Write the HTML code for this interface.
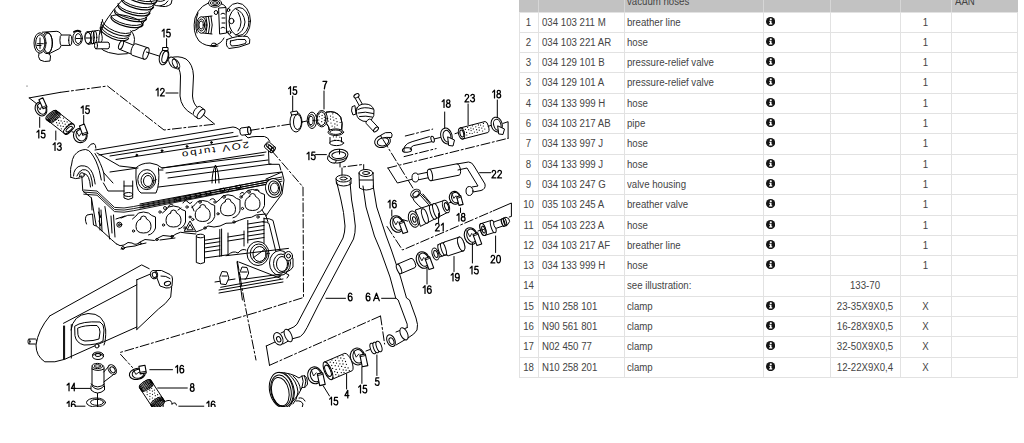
<!DOCTYPE html>
<html><head><meta charset="utf-8"><style>
html,body{margin:0;padding:0;background:#fff;width:1024px;height:443px;overflow:hidden;position:relative}
body{font-family:"Liberation Sans",sans-serif;color:#444;font-size:9.5px}
.hd{position:absolute;background:#c2c2c2}
.hv{position:absolute;width:1px;background:#d6d6d6}
.ht{position:absolute;top:-3.8px;line-height:12px;font-size:10px;color:#444;white-space:nowrap;transform:scaleX(0.965);transform-origin:0 0}
.v{position:absolute;width:1px;background:#e2e2e2}
.h{position:absolute;height:1px;background:#e2e2e2}
.r{position:absolute;left:0;width:1024px;height:20.29px}
.c{position:absolute;top:0;line-height:21.29px;white-space:nowrap;font-size:10px;transform:scaleX(0.965);transform-origin:0 0}
.cc{transform-origin:50% 0}
.ic{position:absolute;top:5.0px}
#dr{position:absolute;left:0;top:0}
</style></head><body>
<svg id="dr" width="515" height="443" viewBox="0 0 515 443" fill="none" stroke="#000" stroke-width="1" stroke-linecap="round" stroke-linejoin="round" font-family="Liberation Sans, sans-serif"><defs><clipPath id="cp"><rect x="0" y="0" width="515" height="407"/></clipPath></defs><g clip-path="url(#cp)">
<path d="M42.4 32.2 L56.9 31.3 Q61.4 32 62.3 38 Q62.8 45 59.6 48.5 L48.8 53.9" fill="#fff"/>
<path d="M70.3 35.0 L61.5 35.0 A1.6 5.2 180.0 0 0 61.5 45.4 L70.3 45.4" fill="#fff"/>
<ellipse cx="70.3" cy="40.2" rx="1.6" ry="5.2" transform="rotate(180.0 70.3 40.2)" fill="#fff"/>
<path d="M39 53 Q37.5 57 40 60 Q44 62.5 50 61 L50.5 56 L48.8 53"/>
<ellipse cx="47" cy="43" rx="5.4" ry="10.7" fill="#fff"/>
<ellipse cx="48" cy="43" rx="4.4" ry="10"/>
<ellipse cx="40" cy="43" rx="6" ry="10.2" fill="#fff"/>
<ellipse cx="40.3" cy="43" rx="4.6" ry="8.3"/>
<path d="M37.5 43.7 L43.3 43.7"/>
<path d="M40.0 38.0 L40.0 48.5"/>
<path d="M37.0 45.5 L41.0 45.5"/>
<ellipse cx="77.6" cy="38.3" rx="4.8" ry="7" fill="#fff"/>
<ellipse cx="78.2" cy="38.6" rx="3" ry="5"/>
<path d="M73.8 32 Q77 29.5 80.5 31.5" stroke-width="1.6"/>
<path d="M76.0 38.5 L80.0 38.5"/>
<path d="M88.8 44.1 L100.3 42.6 A3.0 6.2 -7.4 0 0 98.7 30.4 L87.2 31.9" fill="#fff"/>
<ellipse cx="88" cy="38" rx="3" ry="6.2" transform="rotate(-7.4 88 38)" fill="#fff"/>
<ellipse cx="88" cy="38" rx="3" ry="5.6" fill="#fff"/>
<path d="M86.0 38.0 L90.0 38.0"/>
<ellipse cx="92.5" cy="37.5" rx="1.8" ry="6.3"/>
<ellipse cx="95" cy="37.3" rx="1.8" ry="6.3"/>
<path d="M101.4 26.9 Q98 35 99 45.8 Q102 51 108.5 52.5 Q118 55.5 127.4 53.7 Q134 50 134.5 39.5 Q134 33 130.6 30.8"/>
<path d="M96.0 48.8 L108.0 48.8 A1.5 3.3 0.0 0 0 108.0 42.2 L96.0 42.2" fill="#fff"/>
<ellipse cx="96" cy="45.5" rx="1.5" ry="3.3" fill="#fff"/>
<path d="M125.0 -7.0 A16.5 6 14 0 0 157.0 1.0" stroke-width="1.2"/>
<path d="M124.9 -8.5 A16.3 5.5 14 0 0 156.5 -0.7" stroke-width="1.0"/>
<path d="M121.6 -1.0 A16.5 6 14 0 0 153.6 7.0" stroke-width="1.2"/>
<path d="M121.5 -2.5 A16.3 5.5 14 0 0 153.1 5.3" stroke-width="1.0"/>
<path d="M118.0 5.0 A16.5 6 14 0 0 150.0 13.0" stroke-width="1.2"/>
<path d="M117.9 3.5 A16.3 5.5 14 0 0 149.5 11.3" stroke-width="1.0"/>
<path d="M114.6 10.8 A16.5 6 14 0 0 146.6 18.8" stroke-width="1.2"/>
<path d="M114.5 9.3 A16.3 5.5 14 0 0 146.1 17.1" stroke-width="1.0"/>
<path d="M111.0 16.8 A16.5 6 14 0 0 143.0 24.8" stroke-width="1.2"/>
<path d="M110.9 15.3 A16.3 5.5 14 0 0 142.5 23.1" stroke-width="1.0"/>
<path d="M111.0 16.8 A16.5 5 14 0 1 143.0 24.8"/>
<path d="M107.4 18.6 L104 24 Q101 29 101.2 33"/>
<path d="M143 24 L138 28.5 Q135 31 132.2 31"/>
<path d="M102.2 19.5 A16 6.5 22 0 0 131.8 31.5"/>
<path d="M101.4 22.1 A15.8 6.5 22 0 0 130.6 33.9" stroke-width="1.1"/>
<path d="M100.8 24.5 A15.5 6.5 22 0 0 129.6 36.1"/>
<path d="M100.4 26.9 A15.2 6.3 22 0 0 128.6 38.3" stroke-width="1.1"/>
<path d="M122.3 0 L113.6 10 L107.4 18.6"/>
<path d="M157 0 L153.3 6.2 L142.1 24.8"/>
<path d="M150 0 Q152 6 160 6 Q166 5 168 1 M156 0 Q160 3 165 0 M160 6 Q166 8 171 4 L172 0"/>
<path d="M119.3 49.2 L135.3 55.7 A2.0 4.5 22.1 0 0 138.7 47.3 L122.7 40.8" fill="#fff"/>
<ellipse cx="121" cy="45" rx="2" ry="4.5" transform="rotate(22.1 121 45)" fill="#fff"/>
<path d="M147.9 47.8 L135.9 43.8 A2.5 6.0 -161.6 0 0 132.1 55.2 L144.1 59.2" fill="#fff"/>
<ellipse cx="146" cy="53.5" rx="2.5" ry="6" transform="rotate(-161.6 146 53.5)" fill="#fff"/>
<path d="M146.4 52.0 L159.0 56.0"/>
<ellipse cx="164" cy="57" rx="4.5" ry="8" transform="rotate(15 164 57)" fill="#fff"/>
<ellipse cx="165" cy="57" rx="2.8" ry="6" transform="rotate(15 165 57)"/>
<path d="M163 47.5 l5 0 l0 3 l-5 0z" fill="#fff"/>
<path d="M166.6 38.7 L166.6 47.5"/>
<path d="M 162.12 31.08 L 164.02 29.27 L 164.02 36.88 M 170.00 29.27 L 167.15 29.27 L 166.77 32.70 C 167.25 32.22 167.72 32.03 168.39 32.03 C 169.62 32.03 170.29 32.98 170.29 34.41 C 170.29 35.92 169.43 36.88 168.29 36.88 C 167.25 36.88 166.58 36.21 166.39 35.35" stroke-width="1.25"/>
<path d="M170 58 Q178 55 186 59 Q193 64 193.5 76 L192.5 96 Q193 104 198 108"/>
<path d="M176 65 Q180 68 180.5 76 L180 96 Q181 108 192 114"/>
<ellipse cx="173" cy="62.5" rx="3.5" ry="6" transform="rotate(-30 173 62.5)" fill="#fff"/>
<ellipse cx="176" cy="64" rx="3" ry="5.5" transform="rotate(-30 176 64)"/>
<path d="M204.3 109.6 L200.3 106.6 A2.5 5.5 -143.1 0 0 193.7 115.4 L197.7 118.4" fill="#fff"/>
<ellipse cx="201" cy="114" rx="2.5" ry="5.5" transform="rotate(-143.1 201 114)" fill="#fff"/>
<path d="M166.0 93.0 L178.0 93.0"/>
<path d="M 156.12 90.08 L 158.02 88.28 L 158.02 95.88 M 160.58 90.08 C 160.77 88.75 161.44 88.28 162.39 88.28 C 163.43 88.28 164.19 88.94 164.19 90.18 C 164.19 91.22 163.53 91.89 162.58 92.84 L 160.39 95.88 L 164.29 95.88" stroke-width="1.25"/>
<path d="M215 1.5 Q200 3 195 18 Q192 32 199 41 Q206 47 214 45.5 Q221 44 224 38"/>
<path d="M198 13 Q194 24 197 33 M219 3 Q224 4 226 7"/>
<ellipse cx="237.5" cy="21" rx="13" ry="18" fill="#fff"/>
<ellipse cx="239" cy="21.5" rx="10" ry="14"/>
<path d="M236 9 Q244 12 245 22 Q244 32 236 35 M238 12 Q241 18 241 22 Q241 27 238 31"/>
<ellipse cx="201.5" cy="25" rx="4.8" ry="8.3" fill="#fff"/>
<ellipse cx="201.3" cy="25" rx="3.4" ry="6"/>
<ellipse cx="201.1" cy="25" rx="2.2" ry="4"/>
<path d="M203 17 L212 16 M203 33 L212 34"/>
<path d="M206 17 Q208.5 25 206 33 M208.5 16.6 Q211 25 208.5 33.4 M211 16.3 Q213.5 25 211 33.7"/>
<ellipse cx="215" cy="3" rx="6.5" ry="4.2" fill="#fff"/>
<ellipse cx="215" cy="3" rx="4.5" ry="2.6"/>
<ellipse cx="215" cy="3" rx="2.5" ry="1.3"/>
<path d="M219 8 L226 7.5 L226.5 33 L220 34Z" fill="#fff"/>
<path d="M221 14 Q223 12 225 14 M221 28 Q223 26 225 28 M222 18 L225 18 M222 23 L225 23"/>
<ellipse cx="231.5" cy="21" rx="2.4" ry="2.7" fill="#fff"/>
<ellipse cx="228.5" cy="10" rx="1.3" ry="1.5"/>
<ellipse cx="229.5" cy="32.5" rx="1.4" ry="1.5"/>
<ellipse cx="216" cy="12.5" rx="1.8" ry="2" fill="#fff"/>
<path d="M227 39.5 Q238 35 247.5 36.5 Q251 39 249.5 43.5 Q239 48 229 48.5 Q225 46 227 39.5Z" fill="#fff"/>
<path d="M230.5 41 Q238 38.5 245 39.5 Q247 41.5 245.5 43.5 Q238 46 231.5 46 Q229.5 44 230.5 41Z"/>
<ellipse cx="214" cy="44.5" rx="2.5" ry="1.4"/>
<path d="M210 46 Q214 47.5 218 46"/>
<path d="M29.2 97.9 L60.0 92.4"/>
<path d="M60.0 92.4 L107.5 86.0 L164.0 130.0 L214.7 124.2" stroke-dasharray="9 2.5 2 2.5"/>
<path d="M29.2 97.9 L37.0 104.0"/>
<path d="M203.5 115.0 L214.7 124.2"/>
<circle cx="27" cy="86" r="0.5" fill="#000" stroke="none"/>
<ellipse cx="41" cy="109" rx="5.6" ry="7.2" transform="rotate(-25 41 109)" fill="#fff" stroke-width="1.1"/>
<ellipse cx="41.7" cy="108.7" rx="4.14" ry="5.76" transform="rotate(-25 41.7 108.7)"/>
<path d="M36.9 104.9 L40.1 109.8 L41.5 106.8" stroke-width="0.9"/>
<path d="M43.1 108.8 L47.0 107.0 L42.8 97.8 L38.9 99.7Z" fill="#fff" stroke-linejoin="round" stroke-width="1.1"/>
<path d="M42.5 107.4 Q44.6 106.2 46.1 105.7" stroke-width="0.9"/>
<path d="M73.0 123.8 L56.2 110.6 A2.8 6.5 -141.8 0 0 48.2 120.8 L65.0 134.0" fill="#fff"/>
<ellipse cx="69" cy="128.9" rx="2.8" ry="6.5" transform="rotate(-141.8 69 128.9)" fill="#fff"/>
<path d="M58.8 114.9h0.01 M57.0 117.4h0.01 M55.6 119.5h0.01 M52.9 122.1h0.01 M60.1 117.6h0.01 M58.6 120.4h0.01 M56.6 122.7h0.01 M63.4 118.1h0.01 M61.1 120.9h0.01 M59.3 123.2h0.01 M57.8 125.2h0.01 M64.3 121.3h0.01 M62.5 123.0h0.01 M60.7 125.9h0.01 M67.1 121.9h0.01 M65.2 124.2h0.01 M63.2 126.4h0.01 M61.3 128.8h0.01 M68.7 124.3h0.01 M66.3 126.3h0.01 M64.9 129.2h0.01" stroke-width="1.20"/>
<ellipse cx="51.5" cy="115.2" rx="2.6" ry="6.8" transform="rotate(52 51.5 115.2)" fill="#fff"/>
<ellipse cx="52.5" cy="116.0" rx="2.6" ry="6.8" transform="rotate(52 52.5 116.0)"/>
<ellipse cx="53.6" cy="116.8" rx="2.6" ry="6.8" transform="rotate(52 53.6 116.8)"/>
<ellipse cx="54.6" cy="117.6" rx="2.6" ry="6.8" transform="rotate(52 54.6 117.6)"/>
<ellipse cx="69" cy="128.9" rx="2.8" ry="6.5" transform="rotate(52 69 128.9)" fill="#fff"/>
<ellipse cx="69.2" cy="129.1" rx="1.6" ry="3.8" transform="rotate(52 69.2 129.1)"/>
<path d="M72.0 131.8 L75.0 132.5"/>
<ellipse cx="80.3" cy="135.5" rx="6.8" ry="7.2" transform="rotate(-20 80.3 135.5)" fill="#fff" stroke-width="1.1"/>
<ellipse cx="81.1" cy="135.2" rx="5.03" ry="5.76" transform="rotate(-20 81.1 135.2)"/>
<path d="M76.2 131.2 L79.1 136.3 L81.3 133.2" stroke-width="0.9"/>
<path d="M82.8 135.3 L87.8 133.5 L84.3 124.1 L79.4 125.9Z" fill="#fff" stroke-linejoin="round" stroke-width="1.1"/>
<path d="M82.3 133.8 Q84.9 132.7 87.0 132.2" stroke-width="0.9"/>
<path d="M39.7 117.2 L39.7 127.4"/>
<path d="M 36.91 132.08 L 38.81 130.28 L 38.81 137.88 M 44.80 130.28 L 41.95 130.28 L 41.57 133.69 C 42.04 133.22 42.52 133.03 43.18 133.03 C 44.42 133.03 45.08 133.98 45.08 135.41 C 45.08 136.93 44.23 137.88 43.09 137.88 C 42.04 137.88 41.38 137.21 41.19 136.36" stroke-width="1.25"/>
<path d="M55.8 131.0 L55.8 140.0"/>
<path d="M 53.11 144.58 L 55.02 142.78 L 55.02 150.38 M 57.58 144.20 C 57.96 143.16 58.53 142.78 59.38 142.78 C 60.52 142.78 61.09 143.53 61.09 144.58 C 61.09 145.62 60.34 146.29 59.10 146.29 C 60.62 146.29 61.28 147.15 61.28 148.28 C 61.28 149.62 60.43 150.38 59.29 150.38 C 58.24 150.38 57.58 149.71 57.39 148.86" stroke-width="1.25"/>
<path d="M83.7 115.5 L83.7 124.5"/>
<path d="M 81.21 107.78 L 83.11 105.98 L 83.11 113.58 M 89.10 105.98 L 86.25 105.98 L 85.87 109.40 C 86.34 108.92 86.82 108.73 87.48 108.73 C 88.72 108.73 89.38 109.68 89.38 111.11 C 89.38 112.63 88.53 113.58 87.39 113.58 C 86.34 113.58 85.68 112.91 85.49 112.06" stroke-width="1.25"/>
<path d="M70.8 177.3 Q70 168 71.5 165 Q72 159 74.2 155.6 Q77 152 79.6 150.9 Q83 149.5 85.7 149.5 Q89 150 91.1 152.9 Q94 157 95.9 161 Q98 166 99.3 170.5 L101.3 180"/>
<path d="M95 153.5 Q98.2 158.5 100.3 163.5 Q102.3 168 103.8 173 L104.4 181"/>
<path d="M73.5 176 Q73.5 172 75.5 169.2 Q78 166 81 165.8 Q85 165.5 87.7 167.1 Q91 169.5 92.5 173.2 Q94.5 178 95.2 184"/>
<path d="M76.9 176 Q78.5 171.5 82.3 169.8 Q86 169 88.5 171.5 Q91 175 92 181 L92.5 186"/>
<path d="M79 177 Q81 173.5 84 173.5 Q87 174 88.5 177.5 Q90 181 90.5 187"/>
<ellipse cx="82" cy="175" rx="2.3" ry="2.3" fill="#fff"/>
<path d="M70.8 177.3 L75.5 178.6 L80 178"/>
<path d="M88 147.5 Q91 142.7 94 143.5 Q96 145 95.9 148.2"/>
<path d="M95 150 L233 127 Q236 127 239 129.5 L248 137.9 Q252 136.5 256 136.5 L264.4 136.5 Q268 137 269.8 141.3 M268.5 150 L269 164.3 L279.3 164.3 L280.8 170"/>
<path d="M266.5 144.0 L268.5 150.0"/>
<path d="M98.9 155.0 L233.0 132.5"/>
<path d="M97 153 L119.6 166 L135.9 167.9 Q141 163 150 163 Q158 164 162 168 L266 152"/>
<path d="M110.0 156.0 L238.0 136.0"/>
<path d="M116.0 159.5 L242.0 140.0"/>
<path d="M162.0 168.0 L264.0 155.0"/>
<path d="M166.0 173.0 L268.0 160.0"/>
<path d="M168.0 178.0 L271.0 164.0"/>
<path d="M110.0 172.0 L138.0 168.0"/>
<path d="M159.0 170.0 L163.0 170.0"/>
<circle cx="136.8" cy="155.2" r="0.9" fill="#000"/><circle cx="162" cy="150.7" r="0.9" fill="#000"/><circle cx="187" cy="146.5" r="0.9" fill="#000"/><circle cx="211.5" cy="142.5" r="0.9" fill="#000"/>
<text transform="translate(248.5 141.5) rotate(171.2) scale(1.3 1)" font-size="9" letter-spacing="1.4" stroke="none" fill="#000">2OV turbo</text>
<ellipse cx="146.8" cy="179.6" rx="9" ry="10" fill="#fff"/>
<ellipse cx="147.5" cy="180.5" rx="6.5" ry="7.5"/>
<ellipse cx="148" cy="181" rx="4.5" ry="5.5"/>
<path d="M136 169 Q135 190 141 193 L156 193 Q160 185 158.5 168"/>
<path d="M103.4 172.4 L113.0 183.0"/>
<path d="M103.4 183.0 L108.0 191.0 L124.0 191.0"/>
<path d="M158.5 187.0 L282.0 172.0"/>
<path d="M212 183 Q212 172 215.5 165 Q219 172 219 183"/>
<path d="M215.5 168.0 L215.5 183.0"/>
<path d="M83.8 190.0 L97 191.0 L114.5 207.4 Q124 209.0 133.7 206.5 L282 177.0" stroke-width="0.9"/>
<path d="M83.8 192.1 L97 193.1 L114.5 209.5 Q124 211.1 133.7 208.6 L282 179.1" stroke-width="0.9"/>
<path d="M83.8 194.2 L97 195.2 L114.5 211.6 Q124 213.2 133.7 210.7 L282 181.2" stroke-width="0.9"/>
<path d="M124 181 L124 198 Q128 201 132.7 198 L132.7 181"/>
<ellipse cx="128.3" cy="194.5" rx="4.3" ry="2"/>
<path d="M124.0 186.0 L132.7 186.0"/>
<path d="M140.0 204.0 L268.0 180.0"/>
<path d="M140.0 206.0 L268.0 182.0"/>
<path d="M140.0 208.0 L268.0 184.0"/>
<path d="M176 198 l4 -1 l1 3 l-4 1z M186 196 l4 -1 l1 3 l-4 1z M196 194 l4 -1 l1 3 l-4 1z M206 192 l4 -1 l1 3 l-4 1z M220 189 l4 -1 l1 3 l-4 1z M236 186 l4 -1 l1 3 l-4 1z"/>
<path d="M168 207 q2 -4 5 -2 M183 203 q2 -4 5 -1 q2 3 4 0 M192 206 l2 5 M210 200 q3 -3 5 0 M240 194 q2 -3 4 -1 M255 190 q3 -2 4 1 M228 192 l2 -4 M178 210 l3 -2"/>
<g stroke-width="0.9"><circle cx="165" cy="208" r="1.5"/><circle cx="200" cy="202" r="1.3"/><circle cx="224" cy="197" r="1.3"/><circle cx="249" cy="192" r="1.3"/><circle cx="160" cy="212" r="1.2"/><circle cx="187" cy="207" r="1.2"/><circle cx="215" cy="202" r="1.2"/><circle cx="241" cy="197" r="1.2"/></g>
<path d="M81.8 175.8 L82.8 191 L91.4 197.8 L92 210"/>
<path d="M86.5 224 Q84 218 87 215 L92.5 214 L93.5 225 L96.2 226"/>
<path d="M91.4 197.8 L96.2 225.7 L111.5 239.6 L116.4 243.9"/>
<path d="M104.9 206.5 L109.7 239.0"/>
<path d="M99.0 208.0 L100.0 230.0"/>
<path d="M101.0 210.0 L102.0 231.0"/>
<path d="M98.5 212 l1.5 6 l1 -3 M99 221 l1.5 5 l1 -3"/>
<circle cx="119.3" cy="224.7" r="2.5"/><circle cx="119.3" cy="224.7" r="1"/>
<path d="M111 216 L112 233 M113.5 215 L115 237 M116 219 L125 216"/>
<path d="M121 218 Q128 214 134 215"/>
<path d="M140.5 219.0 Q140.5 216.0 143.5 216.0 Q146.5 216.0 146.5 219.0 Q151.0 221.0 151.0 226.5 Q151.0 233.0 143.5 233.0 Q136.0 233.0 136.0 226.5 Q136.0 221.0 140.5 219.0Z"/>
<path d="M132.5 219.0 Q136.5 216.0 138.5 213.0 Q143.5 211.0 148.5 213.0 Q151.5 216.0 155.5 217.0 L155.5 228.0 Q153.5 234.0 148.5 235.0"/>
<circle cx="133.5" cy="231.0" r="1.1"/>
<path d="M170.5 213.0 Q170.5 210.0 173.5 210.0 Q176.5 210.0 176.5 213.0 Q181.0 215.0 181.0 220.5 Q181.0 227.0 173.5 227.0 Q166.0 227.0 166.0 220.5 Q166.0 215.0 170.5 213.0Z"/>
<path d="M162.5 213.0 Q166.5 210.0 168.5 207.0 Q173.5 205.0 178.5 207.0 Q181.5 210.0 185.5 211.0 L185.5 222.0 Q183.5 228.0 178.5 229.0"/>
<circle cx="163.5" cy="225.0" r="1.1"/>
<path d="M199.7 207.5 Q199.7 204.5 202.7 204.5 Q205.7 204.5 205.7 207.5 Q210.2 209.5 210.2 215.0 Q210.2 221.5 202.7 221.5 Q195.2 221.5 195.2 215.0 Q195.2 209.5 199.7 207.5Z"/>
<path d="M191.7 207.5 Q195.7 204.5 197.7 201.5 Q202.7 199.5 207.7 201.5 Q210.7 204.5 214.7 205.5 L214.7 216.5 Q212.7 222.5 207.7 223.5"/>
<circle cx="192.7" cy="219.5" r="1.1"/>
<path d="M225.0 201.8 Q225.0 198.8 228.0 198.8 Q231.0 198.8 231.0 201.8 Q235.5 203.8 235.5 209.3 Q235.5 215.8 228.0 215.8 Q220.5 215.8 220.5 209.3 Q220.5 203.8 225.0 201.8Z"/>
<path d="M217.0 201.8 Q221.0 198.8 223.0 195.8 Q228.0 193.8 233.0 195.8 Q236.0 198.8 240.0 199.8 L240.0 210.8 Q238.0 216.8 233.0 217.8"/>
<circle cx="218.0" cy="213.8" r="1.1"/>
<path d="M249.5 196.5 Q249.5 193.5 252.5 193.5 Q255.5 193.5 255.5 196.5 Q260.0 198.5 260.0 204.0 Q260.0 210.5 252.5 210.5 Q245.0 210.5 245.0 204.0 Q245.0 198.5 249.5 196.5Z"/>
<path d="M241.5 196.5 Q245.5 193.5 247.5 190.5 Q252.5 188.5 257.5 190.5 Q260.5 193.5 264.5 194.5 L264.5 205.5 Q262.5 211.5 257.5 212.5"/>
<circle cx="242.5" cy="208.5" r="1.1"/>
<path d="M184.4 231 L190 221 L195.6 231Z"/>
<path d="M187.3 229.5 L190 224.5 L193 229.5Z"/>
<circle cx="190" cy="217" r="1"/>
<path d="M116.4 243.9 Q120 247 124 245 Q128 241 132 243 Q136 246 140 242 Q145 238 150 240 Q155 242 158 238 Q163 234 168 236 Q172 238 176 234 Q180 231 186 233 L196 234"/>
<path d="M121 249 L127 247 L135 246 Q140 244 146 243 M160 240 L175 238"/>
<g stroke-width="0.9"><circle cx="123" cy="248" r="1.5"/><circle cx="140" cy="243.5" r="1.2"/><circle cx="157" cy="239.5" r="1.2"/><circle cx="172" cy="236.5" r="1.2"/><circle cx="185" cy="228" r="1.2"/><circle cx="205" cy="228" r="1.2"/><circle cx="234" cy="222" r="1.2"/><circle cx="258" cy="217" r="1.2"/></g>
<path d="M196 232 Q203 230 208 226 Q214 228 220 226 Q226 222 232 223 Q240 220 246 218 Q252 218 256 215 L266 214"/>
<ellipse cx="273.5" cy="188" rx="8" ry="9.5" transform="rotate(-10 273.5 188)" fill="#fff"/>
<ellipse cx="274" cy="188" rx="5.5" ry="7" transform="rotate(-10 274 188)"/>
<ellipse cx="274.5" cy="188" rx="4" ry="5"/>
<path d="M266 179 L282 172 L284 180 L282 194 L270 210 L266 216"/>
<path d="M262 210 L266 216 L268 222"/>
<path d="M248.8 127.0 L241.0 128.0 A1.6 3.6 172.7 0 0 242.0 135.2 L249.8 134.2" fill="#fff"/>
<ellipse cx="249.3" cy="130.6" rx="1.6" ry="3.6" transform="rotate(172.7 249.3 130.6)" fill="#fff"/>
<ellipse cx="249.3" cy="130.6" rx="1.6" ry="3.6" transform="rotate(-7 249.3 130.6)" fill="#fff"/>
<path d="M275.1 147.1 L269.3 142.1 A1.6 3.5 -139.2 0 0 264.7 147.5 L270.5 152.5" fill="#fff"/>
<ellipse cx="272.8" cy="149.8" rx="1.6" ry="3.5" transform="rotate(-139.2 272.8 149.8)" fill="#fff"/>
<ellipse cx="269" cy="146.5" rx="1.5" ry="3.6" transform="rotate(-50 269 146.5)"/>
<ellipse cx="271" cy="148.2" rx="1.5" ry="3.6" transform="rotate(-50 271 148.2)"/>
<path d="M196.3 236 L196.3 262.5 Q200.4 265 204.5 262.5 L204.5 236"/>
<ellipse cx="200.4" cy="236" rx="4.1" ry="1.8" fill="#fff"/>
<path d="M204.5 240.3 L219.8 238.0"/>
<path d="M204.5 244.0 L219.8 241.7"/>
<path d="M204.5 248.0 L219.8 245.7"/>
<path d="M204.5 252.0 L219.8 249.7"/>
<path d="M219.8 229.5 L219.8 256.6"/>
<path d="M221.6 229.0 L221.6 256.0"/>
<path d="M204.5 258.0 L228.0 254.8"/>
<path d="M228.0 233.0 L228.0 254.8"/>
<path d="M244.0 231.0 L244.0 246.0"/>
<path d="M228.0 237.0 L244.0 234.5"/>
<path d="M228.0 241.0 L244.0 238.5"/>
<path d="M247.8 220.4 L247.8 243.0"/>
<path d="M264.0 218.0 L264.0 244.0"/>
<path d="M247.8 224.0 L264.0 221.5"/>
<path d="M247.8 228.0 L264.0 225.5"/>
<path d="M247.8 232.0 L264.0 229.5"/>
<path d="M247.8 236.0 L264.0 233.5"/>
<path d="M247.8 240.0 L264.0 237.5"/>
<path d="M228 255 Q233 250 238 253 Q242 248 246 250"/>
<ellipse cx="258" cy="253.5" rx="11" ry="12" fill="#fff"/>
<ellipse cx="258.8" cy="253.5" rx="8.5" ry="9.5"/>
<ellipse cx="259.5" cy="254" rx="6.5" ry="7.5"/>
<path d="M253 258 L265 249"/>
<path d="M264 218.6 Q270 218 273 220.4 L280.4 251 M263 222 Q267 221.5 269 223.5 L276 252"/>
<ellipse cx="280" cy="263" rx="10.5" ry="12.5" fill="#fff"/>
<ellipse cx="281" cy="263.5" rx="7.5" ry="9.5"/>
<ellipse cx="282" cy="264" rx="5.5" ry="7.5"/>
<path d="M284 253 Q292 252 293 259 L293 267 Q291 271 286 272"/>
<ellipse cx="288.5" cy="256" rx="4" ry="4.5" fill="#fff"/>
<ellipse cx="288.5" cy="256" rx="2" ry="2"/>
<path d="M283 272 L289 275 L287 278"/>
<path d="M226.0 255.7 L288.5 248.4"/>
<path d="M237.0 262.0 L242.4 300.0"/>
<path d="M238.8 262.0 L280.4 278.3"/>
<path d="M220.7 287.3 L280.4 276.4"/>
<path d="M219.0 290.0 L283.0 279.0"/>
<path d="M219.0 293.0 L283.0 282.0"/>
<path d="M215.0 282.0 L235.0 279.0"/>
<path d="M219.8 277 L222 271.5 L227 272 L228.9 278 L226 284.6 L221 284Z" fill="#fff"/>
<path d="M239.7 273 L242 267 L247 267.5 L248.7 273 L246 279 L241 279Z" fill="#fff"/>
<path d="M222.0 276.0 L227.0 276.0"/>
<path d="M241.5 272.0 L247.0 272.0"/>
<path d="M245.0 279.0 L282.0 274.0"/>
<path d="M237.4 261.3 L245.0 305.0 L256.0 360.0" stroke-dasharray="9 2.5 2 2.5"/>
<path d="M271.6 150.6 L303.0 187.0 L303.5 297.5 L256.0 312.5 L120.0 352.5" stroke-dasharray="9 2.5 2 2.5"/>
<path d="M250.3 130.3 L290.0 124.2" stroke-dasharray="9 2.5 2 2.5"/>
<path d="M292.7 96.0 L292.7 112.0"/>
<path d="M 288.62 88.58 L 290.51 86.78 L 290.51 94.38 M 296.50 86.78 L 293.65 86.78 L 293.27 90.20 C 293.75 89.72 294.22 89.53 294.88 89.53 C 296.12 89.53 296.78 90.48 296.78 91.91 C 296.78 93.43 295.93 94.38 294.79 94.38 C 293.75 94.38 293.08 93.71 292.89 92.86" stroke-width="1.25"/>
<ellipse cx="296" cy="122" rx="6" ry="10" fill="#fff"/>
<ellipse cx="297.5" cy="122" rx="4" ry="7.5"/>
<path d="M291 112 l6 -1 l1 3 l-6 1z" fill="#fff"/>
<path d="M302.0 122.0 L307.0 121.0"/>
<path d="M326.4 112.1 Q336 110 340.7 117.2 Q343 123 341.7 130 L329 130 Q329 126 327 124 Z" fill="#fff"/>
<path d="M326.4 112.1 Q336 110 340.7 117.2 Q343 123 341.7 130 M327 124.5 Q329.5 126.5 329.5 130.5"/>
<path d="M332.8 113.8h0.01 M330.5 116.1h0.01 M327.7 118.3h0.01 M333.0 117.1h0.01 M330.5 119.1h0.01 M328.2 121.1h0.01 M336.1 118.6h0.01 M333.8 120.2h0.01 M331.0 123.0h0.01 M337.0 121.7h0.01 M334.9 123.9h0.01 M332.1 126.1h0.01 M340.1 122.5h0.01 M337.2 125.1h0.01 M334.7 127.0h0.01" stroke-width="1.20"/>
<path d="M330 137.5 L330 142 M341.5 137.5 L341.5 142"/>
<path d="M339.9 137.2h0.01 M336.3 136.9h0.01 M333.4 136.8h0.01 M338.5 140.3h0.01 M334.9 140.0h0.01" stroke-width="1.20"/>
<ellipse cx="336.6" cy="143" rx="7" ry="2.6"/>
<ellipse cx="335.8" cy="132.2" rx="7.8" ry="3.3" fill="#fff"/>
<ellipse cx="335.8" cy="132.2" rx="6" ry="2.2"/>
<ellipse cx="321.8" cy="118.7" rx="5.6" ry="8.2" fill="#fff"/>
<ellipse cx="321.5" cy="118.7" rx="4.3" ry="6.8"/>
<path d="M319.2 113.8h0.01 M319.3 116.6h0.01 M318.8 120.0h0.01 M319.0 123.5h0.01 M322.1 115.4h0.01 M322.0 118.6h0.01 M321.7 121.7h0.01 M324.5 114.0h0.01 M324.4 117.2h0.01 M324.4 120.2h0.01 M324.6 123.2h0.01" stroke-width="1.20"/>
<ellipse cx="312" cy="120.3" rx="4.8" ry="8.2" fill="#fff"/>
<ellipse cx="311.6" cy="120.4" rx="3.2" ry="6"/>
<ellipse cx="311" cy="120.5" rx="2.2" ry="4.2"/>
<path d="M324.0 91.0 L324.0 109.0"/>
<path d="M 322.93 81.28 L 326.82 81.28 C 325.40 83.37 324.54 85.84 324.35 88.88" stroke-width="1.25"/>
<ellipse cx="337.6" cy="157.6" rx="9.3" ry="5.3" transform="rotate(-3 337.6 157.6)" fill="#fff"/>
<ellipse cx="338.5" cy="154.8" rx="9.5" ry="5.5" transform="rotate(-3 338.5 154.8)" fill="#fff"/>
<ellipse cx="338.8" cy="155.2" rx="7" ry="3.4" transform="rotate(-3 338.8 155.2)"/>
<path d="M328 156 L327.5 159 Q330 163.5 335 163 L336.5 160.5 Q332 160 329.5 157" fill="#fff"/>
<path d="M339.5 149.3 L339.5 154.0"/>
<path d="M340.0 163.0 L340.0 167.0"/>
<path d="M315.5 154.6 L326.4 154.6"/>
<path d="M 307.01 153.88 L 308.91 152.08 L 308.91 159.68 M 314.90 152.08 L 312.05 152.08 L 311.67 155.50 C 312.14 155.02 312.62 154.83 313.28 154.83 C 314.52 154.83 315.18 155.78 315.18 157.21 C 315.18 158.73 314.33 159.68 313.19 159.68 C 312.14 159.68 311.48 159.01 311.29 158.16" stroke-width="1.25"/>
<path d="M342.0 177.0 L342.0 167.1 L363.7 164.4 L363.7 170.5" stroke-dasharray="9 2.5 2 2.5"/>
<path d="M336.7 182 L341 200 Q344 212 345 226 Q345 232 343 238 L307.1 305 L297 324.2 Q295 327 289 329.2"/>
<path d="M350 182 L351.6 200 Q354 212 355.3 226 Q355.5 233 353.5 239 L318.4 305 L307.1 327.5 Q304 334 300.3 336.6 L292.4 338.8"/>
<ellipse cx="343.5" cy="178.5" rx="7.5" ry="3.5" fill="#fff"/>
<ellipse cx="343.5" cy="178.5" rx="3.5" ry="1.5"/>
<path d="M336 179 L336.5 184 Q343.5 188 351 184 L351 179"/>
<path d="M363 186 L366 207 L374.4 236 L380.3 250 L390 277 L395.7 298 L398.2 300 L407.2 324.2 L407.2 327.6"/>
<path d="M373.2 186 L376.7 207 L386.2 236 L391.4 250 L400.5 277 L406.5 298 L409.5 300 L416 318 Q418.5 325 417 330 Q415 334 408.3 337.8"/>
<ellipse cx="366" cy="173" rx="7" ry="3.5" fill="#fff"/>
<ellipse cx="366" cy="173" rx="3.5" ry="1.5"/>
<path d="M359 173 L359.5 188 Q366 192 373.5 188 L373 173"/>
<path d="M359.5 180.0 L373.0 180.0"/>
<path d="M326.0 298.3 L345.5 298.3"/>
<path d="M 351.84 294.41 C 351.55 293.55 350.98 293.17 350.22 293.17 C 348.80 293.17 348.23 294.88 348.23 297.26 C 348.23 299.63 348.99 300.77 350.22 300.77 C 351.36 300.77 352.12 299.92 352.12 298.40 C 352.12 296.97 351.36 296.12 350.22 296.12 C 349.18 296.12 348.51 296.78 348.32 297.54" stroke-width="1.25"/>
<path d="M381.6 298.3 L395.7 298.3"/>
<path d="M 369.74 294.41 C 369.45 293.55 368.88 293.17 368.12 293.17 C 366.69 293.17 366.12 294.88 366.12 297.26 C 366.12 299.63 366.88 300.77 368.12 300.77 C 369.26 300.77 370.02 299.92 370.02 298.40 C 370.02 296.97 369.26 296.12 368.12 296.12 C 367.07 296.12 366.41 296.78 366.22 297.54" stroke-width="1.25"/>
<path d="M 373.62 300.77 L 376.48 293.17 L 379.32 300.77 M 374.67 298.30 L 378.28 298.30" stroke-width="1.25"/>
<path d="M354.5 97 L359.5 106 M357.5 95.5 L362.5 104.5"/>
<ellipse cx="356.5" cy="95.8" rx="2.8" ry="1.8" transform="rotate(-30 356.5 95.8)" fill="#fff"/>
<path d="M352 107 Q350.5 111 353 115 L356 114 L355 106Z" fill="#fff"/>
<path d="M357 108 Q355 115 359 119 Q363 122 367 121.5 L371 120.5 Q375 116 374 110 Q372 104 365 104 Q359 104 357 108Z" fill="#fff"/>
<path d="M358 109.5 Q364 106 373 109 M358 113 Q365 111 373.5 113.5 M359.5 116.5 Q366 115.5 372 117"/>
<path d="M378.2 127.4 L370.7 119.4 A1.6 3.0 -133.2 0 0 366.3 123.6 L373.8 131.6" fill="#fff"/>
<ellipse cx="376" cy="129.5" rx="1.6" ry="3" transform="rotate(-133.2 376 129.5)" fill="#fff"/>
<ellipse cx="382.5" cy="141.4" rx="8" ry="6" transform="rotate(-15 382.5 141.4)" fill="#fff"/>
<ellipse cx="383" cy="141.8" rx="5.8" ry="4" transform="rotate(-15 383 141.8)"/>
<path d="M381 135 Q385 131.5 391 132.5 Q393 134.5 391.5 137.5 Q386 137 382 138Z" fill="#fff"/>
<path d="M383.0 139.5 L413.2 188.5" stroke-dasharray="9 2.5 2 2.5"/>
<path d="M405.3 136.0 L432.7 129.1" stroke-dasharray="9 2.5 2 2.5"/>
<path d="M404.1 156.6 L436.1 148.6" stroke-dasharray="9 2.5 2 2.5"/>
<path d="M387.9 168.0 L508.1 138.3" stroke-dasharray="9 2.5 2 2.5"/>
<path d="M508.1 138.3 L508.1 121.7 L503.0 123.4"/>
<path d="M429.3 136.6 L412.1 141.7 Q407 143 405 146 Q403 149 404 150.5 M431.6 141.7 L413.3 145.7 Q410.5 147 410.2 149.5"/>
<ellipse cx="407" cy="150" rx="4.6" ry="2.2" transform="rotate(-5 407 150)"/>
<ellipse cx="432.6" cy="139.2" rx="1.6" ry="3.1" transform="rotate(-15 432.6 139.2)" fill="#fff"/>
<path d="M434.4 138.9 L441.9 137.1"/>
<ellipse cx="446.4" cy="136" rx="5.7" ry="8" transform="rotate(-15 446.4 136)" fill="#fff"/>
<ellipse cx="447" cy="136.2" rx="3.8" ry="6" transform="rotate(-15 447 136.2)"/>
<path d="M448 137 L454.5 140 L453 146 L449 145.5 Z" fill="#fff"/>
<path d="M444.7 112.0 L444.7 128.6"/>
<path d="M 442.12 101.58 L 444.01 99.78 L 444.01 107.38 M 448.29 103.29 C 447.25 103.29 446.68 102.62 446.68 101.58 C 446.68 100.44 447.34 99.78 448.29 99.78 C 449.24 99.78 449.90 100.44 449.90 101.58 C 449.90 102.62 449.33 103.29 448.29 103.29 C 447.15 103.29 446.39 104.05 446.39 105.29 C 446.39 106.62 447.15 107.38 448.29 107.38 C 449.43 107.38 450.19 106.62 450.19 105.29 C 450.19 104.05 449.43 103.29 448.29 103.29 Z" stroke-width="1.25"/>
<path d="M455.0 133.7 L458.4 132.6"/>
<path d="M462.9 139.0 L487.9 132.5 A2.3 5.7 -14.6 0 0 485.1 121.5 L460.1 128.0" fill="#fff"/>
<ellipse cx="461.5" cy="133.5" rx="2.3" ry="5.7" transform="rotate(-14.6 461.5 133.5)" fill="#fff"/>
<path d="M462.8 128.6h0.01 M463.9 131.3h0.01 M464.3 134.4h0.01 M465.4 129.4h0.01 M466.6 132.4h0.01 M466.8 135.0h0.01 M467.6 127.5h0.01 M468.7 129.7h0.01 M469.8 133.3h0.01 M470.9 128.1h0.01 M471.1 130.6h0.01 M472.2 133.5h0.01 M472.6 125.8h0.01 M473.3 128.9h0.01 M474.4 132.0h0.01 M475.8 126.8h0.01 M476.6 129.7h0.01 M477.2 132.3h0.01 M478.4 124.9h0.01 M479.0 127.6h0.01 M479.3 130.2h0.01 M480.6 125.1h0.01 M481.8 128.1h0.01 M482.6 131.0h0.01 M483.4 123.4h0.01 M483.3 126.0h0.01 M484.8 129.0h0.01" stroke-width="1.20"/>
<ellipse cx="461.5" cy="133.5" rx="3" ry="5.5" transform="rotate(-14 461.5 133.5)" fill="#fff"/>
<ellipse cx="461.8" cy="133.5" rx="1.8" ry="3.5" transform="rotate(-14 461.8 133.5)"/>
<path d="M468.1 104.0 L468.1 124.6"/>
<path d="M 465.12 96.08 C 465.31 94.75 465.97 94.28 466.92 94.28 C 467.97 94.28 468.73 94.94 468.73 96.18 C 468.73 97.22 468.06 97.89 467.11 98.84 L 464.93 101.88 L 468.82 101.88 M 470.81 95.70 C 471.19 94.66 471.76 94.28 472.62 94.28 C 473.76 94.28 474.33 95.04 474.33 96.08 C 474.33 97.12 473.57 97.79 472.33 97.79 C 473.86 97.79 474.52 98.65 474.52 99.79 C 474.52 101.12 473.67 101.88 472.52 101.88 C 471.48 101.88 470.81 101.21 470.62 100.36" stroke-width="1.25"/>
<path d="M488.1 126.3 L492.1 125.1"/>
<ellipse cx="496.7" cy="124.6" rx="5.5" ry="7.5" transform="rotate(-15 496.7 124.6)" fill="#fff"/>
<ellipse cx="497.3" cy="124.8" rx="3.6" ry="5.6" transform="rotate(-15 497.3 124.8)"/>
<path d="M498 126 L504.5 129 L503 134.5 L499 134 Z" fill="#fff"/>
<path d="M497.3 100.0 L497.3 117.7"/>
<path d="M 492.62 92.08 L 494.51 90.28 L 494.51 97.88 M 498.79 93.79 C 497.75 93.79 497.18 93.12 497.18 92.08 C 497.18 90.94 497.84 90.28 498.79 90.28 C 499.74 90.28 500.40 90.94 500.40 92.08 C 500.40 93.12 499.83 93.79 498.79 93.79 C 497.65 93.79 496.89 94.55 496.89 95.79 C 496.89 97.12 497.65 97.88 498.79 97.88 C 499.93 97.88 500.69 97.12 500.69 95.79 C 500.69 94.55 499.93 93.79 498.79 93.79 Z" stroke-width="1.25"/>
<path d="M387.9 168.0 L397.4 183.0 L413.2 179.0"/>
<ellipse cx="415.5" cy="177.5" rx="3.5" ry="4.5" fill="#fff"/>
<path d="M419.1 179.7 L428.6 177.7 A1.2 2.8 -11.9 0 0 427.4 172.3 L417.9 174.3" fill="#fff"/>
<path d="M431.1 180.7 L459.1 175.2 A2.4 5.8 -11.1 0 0 456.9 163.8 L428.9 169.3" fill="#fff"/>
<ellipse cx="430" cy="175" rx="2.4" ry="5.8" transform="rotate(-11.1 430 175)" fill="#fff"/>
<path d="M457 164 L468.5 162 Q472 162 474 166 L485 184 Q486 189 481 190.5 L473 192 M458 170 L467 168 L478 186 L472 187"/>
<ellipse cx="469.5" cy="191" rx="3.5" ry="4.5" fill="#fff"/>
<path d="M479.6 172.7 L490.7 172.7"/>
<path d="M 492.12 172.08 C 492.31 170.75 492.97 170.28 493.92 170.28 C 494.97 170.28 495.73 170.94 495.73 172.18 C 495.73 173.22 495.06 173.89 494.11 174.84 L 491.93 177.88 L 495.82 177.88 M 497.81 172.08 C 498.00 170.75 498.67 170.28 499.62 170.28 C 500.67 170.28 501.43 170.94 501.43 172.18 C 501.43 173.22 500.76 173.89 499.81 174.84 L 497.62 177.88 L 501.52 177.88" stroke-width="1.25"/>
<g transform="translate(0.5 2.5)">
<path d="M411 193 Q413 199 418 203 L424 208 L431 203 L425 196 Q420 190 416 188.5" fill="#fff"/>
<ellipse cx="415" cy="191" rx="5.2" ry="3.8" transform="rotate(-35 415 191)" fill="#fff"/>
<ellipse cx="415.5" cy="191.5" rx="3.5" ry="2.3" transform="rotate(-35 415.5 191.5)"/>
<path d="M420 193 L428 202 L427.5 205 M422.5 191.5 L430 200.5"/>
<path d="M415.2 207.4 L442.7 198.3 L447.8 209.5 L420.3 223.7 Z" fill="#fff"/>
<ellipse cx="424.4" cy="213.5" rx="2.6" ry="7.6" transform="rotate(-18 424.4 213.5)" fill="#fff"/>
<ellipse cx="432.5" cy="209.5" rx="2.6" ry="7.6" transform="rotate(-18 432.5 209.5)" fill="#fff"/>
<ellipse cx="435.6" cy="208.3" rx="2.6" ry="7.6" transform="rotate(-18 435.6 208.3)" fill="#fff"/>
<ellipse cx="445.5" cy="204" rx="3.2" ry="6.5" transform="rotate(-18 445.5 204)" fill="#fff"/>
<ellipse cx="446" cy="204" rx="1.8" ry="4" transform="rotate(-18 446 204)"/>
<ellipse cx="413.2" cy="216.6" rx="5" ry="8.3" transform="rotate(-18 413.2 216.6)" fill="#fff"/>
<ellipse cx="413.5" cy="216.8" rx="3.3" ry="5.8" transform="rotate(-18 413.5 216.8)"/>
<ellipse cx="413.8" cy="217" rx="1.6" ry="2.8" transform="rotate(-18 413.8 217)"/>
<path d="M407.1 218.6 L400.0 216.5"/>
<path d="M448.8 200.3 L451.0 199.8"/>
</g>
<path d="M438.6 213.5 L438.6 223.0"/>
<path d="M 435.62 225.08 C 435.81 223.75 436.47 223.28 437.42 223.28 C 438.47 223.28 439.23 223.94 439.23 225.18 C 439.23 226.22 438.56 226.89 437.61 227.84 L 435.43 230.88 L 439.32 230.88 M 441.31 225.08 L 443.21 223.28 L 443.21 230.88" stroke-width="1.25"/>
<ellipse cx="454.9" cy="197.8" rx="5.5" ry="6.5" transform="rotate(-15 454.9 197.8)" fill="#fff" stroke-width="1.1"/>
<ellipse cx="455.7" cy="197.6" rx="4.07" ry="5.2" transform="rotate(-15 455.7 197.6)"/>
<path d="M451.8 193.6 L453.9 198.4 L455.8 195.9" stroke-width="0.9"/>
<path d="M456.6 196.7 L460.7 195.6 L463.1 204.4 L459.0 205.4Z" fill="#fff" stroke-linejoin="round" stroke-width="1.1"/>
<path d="M457.1 198.2 Q459.0 197.9 460.8 197.1" stroke-width="0.9"/>
<path d="M460.5 208.0 L460.5 212.5"/>
<path d="M 457.01 215.28 L 458.91 213.47 L 458.91 221.07 M 463.19 216.99 C 462.14 216.99 461.57 216.32 461.57 215.28 C 461.57 214.14 462.24 213.47 463.19 213.47 C 464.14 213.47 464.80 214.14 464.80 215.28 C 464.80 216.32 464.23 216.99 463.19 216.99 C 462.05 216.99 461.29 217.75 461.29 218.98 C 461.29 220.31 462.05 221.07 463.19 221.07 C 464.33 221.07 465.09 220.31 465.09 218.98 C 465.09 217.75 464.33 216.99 463.19 216.99 Z" stroke-width="1.25"/>
<path d="M391.8 210.0 L391.8 216.0"/>
<path d="M 388.12 202.08 L 390.01 200.28 L 390.01 207.88 M 396.00 201.51 C 395.71 200.66 395.14 200.28 394.38 200.28 C 392.96 200.28 392.39 201.99 392.39 204.36 C 392.39 206.74 393.15 207.88 394.38 207.88 C 395.52 207.88 396.28 207.02 396.28 205.50 C 396.28 204.08 395.52 203.22 394.38 203.22 C 393.34 203.22 392.68 203.89 392.49 204.65" stroke-width="1.25"/>
<ellipse cx="397" cy="224" rx="6.5" ry="8.5" transform="rotate(-20 397 224)" fill="#fff" stroke-width="1.1"/>
<ellipse cx="397.8" cy="223.7" rx="4.81" ry="6.8" transform="rotate(-20 397.8 223.7)"/>
<path d="M392.7 218.8 L395.9 224.8 L397.8 221.4" stroke-width="0.9"/>
<path d="M398.9 222.4 L403.6 220.7 L407.7 231.9 L403.0 233.6Z" fill="#fff" stroke-linejoin="round" stroke-width="1.1"/>
<path d="M399.5 223.9 Q401.7 223.3 403.8 222.2" stroke-width="0.9"/>
<path d="M387.0 226.5 L402.5 250.0 L493.4 210.8" stroke-dasharray="9 2.5 2 2.5"/>
<path d="M493.4 210.8 L511.4 203.0 L511.4 216.5 L509.2 217.0"/>
<path d="M484.9 235.4 L494.4 232.4 A2.6 6.2 -17.5 0 0 490.6 220.6 L481.1 223.6" fill="#fff"/>
<ellipse cx="483" cy="229.5" rx="2.6" ry="6.2" transform="rotate(-17.5 483 229.5)" fill="#fff"/>
<ellipse cx="483" cy="229.5" rx="2.6" ry="6.2" transform="rotate(-17 483 229.5)" fill="#fff"/>
<ellipse cx="483.4" cy="229.6" rx="1.4" ry="3.6" transform="rotate(-17 483.4 229.6)"/>
<path d="M478.0 231.0 L483.5 229.5"/>
<ellipse cx="493.2" cy="226.5" rx="2.2" ry="6.5" transform="rotate(-17 493.2 226.5)" fill="#fff"/>
<path d="M501.9 219.2 L494.2 221.8 A1.5 3.4 161.3 0 0 496.4 228.2 L504.1 225.6" fill="#fff"/>
<ellipse cx="503" cy="222.4" rx="1.5" ry="3.4" transform="rotate(161.3 503 222.4)" fill="#fff"/>
<path d="M502.5 218.5 L506 217.2 Q509.8 218.2 509.6 221.5 L507 225.5 L503.5 226.5" fill="#fff"/>
<ellipse cx="503.2" cy="222.4" rx="1.4" ry="3.9" transform="rotate(-17 503.2 222.4)" fill="#fff"/>
<ellipse cx="505" cy="221.7" rx="1.3" ry="3.8" transform="rotate(-17 505 221.7)"/>
<path d="M495.6 236.0 L495.6 252.5"/>
<path d="M 491.12 257.08 C 491.31 255.75 491.97 255.28 492.92 255.28 C 493.97 255.28 494.73 255.94 494.73 257.18 C 494.73 258.22 494.06 258.88 493.11 259.83 L 490.93 262.88 L 494.82 262.88 M 498.52 255.28 C 496.91 255.28 496.62 257.37 496.62 259.07 C 496.62 260.79 496.91 262.88 498.52 262.88 C 500.14 262.88 500.43 260.79 500.43 259.07 C 500.43 257.37 500.14 255.28 498.52 255.28 Z" stroke-width="1.25"/>
<ellipse cx="471" cy="236" rx="6.5" ry="8.5" transform="rotate(-20 471 236)" fill="#fff" stroke-width="1.1"/>
<ellipse cx="471.8" cy="235.7" rx="4.81" ry="6.8" transform="rotate(-20 471.8 235.7)"/>
<path d="M466.7 230.8 L469.9 236.8 L471.8 233.4" stroke-width="0.9"/>
<path d="M472.9 234.4 L477.6 232.7 L481.7 243.9 L477.0 245.6Z" fill="#fff" stroke-linejoin="round" stroke-width="1.1"/>
<path d="M473.5 235.9 Q475.7 235.3 477.8 234.2" stroke-width="0.9"/>
<path d="M472.4 243.0 L472.4 263.0"/>
<path d="M 470.12 268.08 L 472.01 266.27 L 472.01 273.88 M 478.00 266.27 L 475.15 266.27 L 474.77 269.69 C 475.25 269.22 475.72 269.03 476.38 269.03 C 477.62 269.03 478.28 269.98 478.28 271.40 C 478.28 272.92 477.43 273.88 476.29 273.88 C 475.25 273.88 474.58 273.21 474.39 272.35" stroke-width="1.25"/>
<path d="M459.0 237.2 L443.8 242.2 A3.0 7.2 161.8 0 0 448.2 255.8 L463.4 250.8" fill="#fff"/>
<ellipse cx="461.2" cy="244" rx="3" ry="7.2" transform="rotate(161.8 461.2 244)" fill="#fff"/>
<ellipse cx="461.2" cy="244" rx="3" ry="7.2" transform="rotate(-18 461.2 244)" fill="#fff"/>
<path d="M437.6 245 L444.3 242.5 M439.5 257 L447 254.5"/>
<ellipse cx="441" cy="250" rx="2.5" ry="6.2" transform="rotate(-18 441 250)" fill="#fff"/>
<ellipse cx="443.5" cy="249" rx="2.2" ry="6.4" transform="rotate(-18 443.5 249)" fill="#fff"/>
<ellipse cx="435.5" cy="254" rx="3.2" ry="6.2" transform="rotate(-18 435.5 254)" fill="#fff"/>
<ellipse cx="435.8" cy="254" rx="1.8" ry="3.6" transform="rotate(-18 435.8 254)"/>
<path d="M454.0 256.5 L454.0 271.5"/>
<path d="M 451.12 275.08 L 453.01 273.27 L 453.01 280.88 M 455.68 279.64 C 455.96 280.50 456.53 280.88 457.29 280.88 C 458.71 280.88 459.28 279.16 459.28 276.79 C 459.28 274.41 458.52 273.27 457.29 273.27 C 456.15 273.27 455.39 274.13 455.39 275.65 C 455.39 277.07 456.15 277.93 457.29 277.93 C 458.33 277.93 459.00 277.26 459.19 276.50" stroke-width="1.25"/>
<ellipse cx="423" cy="260" rx="6.5" ry="8.5" transform="rotate(-20 423 260)" fill="#fff" stroke-width="1.1"/>
<ellipse cx="423.8" cy="259.7" rx="4.81" ry="6.8" transform="rotate(-20 423.8 259.7)"/>
<path d="M418.7 254.8 L421.9 260.8 L423.8 257.4" stroke-width="0.9"/>
<path d="M424.9 258.4 L429.6 256.7 L433.7 267.9 L429.0 269.6Z" fill="#fff" stroke-linejoin="round" stroke-width="1.1"/>
<path d="M425.5 259.9 Q427.7 259.3 429.8 258.2" stroke-width="0.9"/>
<path d="M427.0 268.0 L427.0 284.0"/>
<path d="M 423.12 287.58 L 425.01 285.77 L 425.01 293.38 M 431.00 287.01 C 430.71 286.15 430.14 285.77 429.38 285.77 C 427.96 285.77 427.39 287.48 427.39 289.86 C 427.39 292.23 428.15 293.38 429.38 293.38 C 430.52 293.38 431.28 292.52 431.28 291.00 C 431.28 289.57 430.52 288.72 429.38 288.72 C 428.34 288.72 427.68 289.38 427.49 290.14" stroke-width="1.25"/>
<path d="M401.0 273.6 L415.0 267.6 A2.0 5.0 -23.2 0 0 411.0 258.4 L397.0 264.4" fill="#fff"/>
<ellipse cx="399" cy="269" rx="2" ry="5" transform="rotate(-23.2 399 269)" fill="#fff"/>
<path d="M266.3 346.0 L269.5 365.3"/>
<path d="M269.5 365.3 L380.5 316.0" stroke-dasharray="9 2.5 2 2.5"/>
<path d="M380.5 316.0 L384.6 344.0" stroke-dasharray="9 2.5 2 2.5"/>
<path d="M266.3 346.0 L276.7 341.2"/>
<path d="M289 329.2 L281 333 M292.4 338.8 L283 344"/>
<ellipse cx="288.2" cy="335.5" rx="3.3" ry="6.8" transform="rotate(-25 288.2 335.5)" fill="#fff"/>
<ellipse cx="278.3" cy="338.8" rx="4.3" ry="6.5" transform="rotate(-25 278.3 338.8)" fill="#fff"/>
<ellipse cx="278.7" cy="339.3" rx="2" ry="2.8" transform="rotate(-25 278.7 339.3)"/>
<path d="M407.2 327.6 L396 332 M408.3 337.8 L396 345"/>
<ellipse cx="404" cy="333.8" rx="3.4" ry="6.5" transform="rotate(-25 404 333.8)" fill="#fff"/>
<ellipse cx="391" cy="340.6" rx="3.9" ry="6.2" transform="rotate(-25 391 340.6)" fill="#fff"/>
<ellipse cx="391.5" cy="341.2" rx="2.2" ry="3.5" transform="rotate(-25 391.5 341.2)"/>
<ellipse cx="373" cy="348.5" rx="2.5" ry="5.5" transform="rotate(-20 373 348.5)" fill="#fff"/>
<ellipse cx="376" cy="347.5" rx="2.5" ry="5.5" transform="rotate(-20 376 347.5)" fill="#fff"/>
<ellipse cx="379" cy="346.5" rx="2.5" ry="5.5" transform="rotate(-20 379 346.5)" fill="#fff"/>
<path d="M366.0 351.0 L370.0 349.5"/>
<path d="M376.9 355.0 L376.9 375.5"/>
<path d="M 378.84 377.77 L 375.99 377.77 L 375.61 381.19 C 376.08 380.72 376.56 380.53 377.22 380.53 C 378.46 380.53 379.12 381.48 379.12 382.90 C 379.12 384.42 378.27 385.38 377.12 385.38 C 376.08 385.38 375.42 384.71 375.23 383.85" stroke-width="1.25"/>
<ellipse cx="357.5" cy="356.5" rx="7.2" ry="8.5" transform="rotate(-12 357.5 356.5)" fill="#fff" stroke-width="1.1"/>
<ellipse cx="358.3" cy="356.3" rx="5.33" ry="6.8" transform="rotate(-12 358.3 356.3)"/>
<path d="M353.7 350.8 L356.2 357.2 L358.8 354.0" stroke-width="0.9"/>
<path d="M359.9 355.1 L365.3 354.0 L367.8 365.6 L362.3 366.8Z" fill="#fff" stroke-linejoin="round" stroke-width="1.1"/>
<path d="M360.2 356.7 Q362.8 356.3 365.3 355.5" stroke-width="0.9"/>
<path d="M361.9 367.0 L361.9 383.4"/>
<path d="M 358.62 387.08 L 360.51 385.27 L 360.51 392.88 M 366.50 385.27 L 363.65 385.27 L 363.27 388.69 C 363.75 388.22 364.22 388.03 364.88 388.03 C 366.12 388.03 366.78 388.98 366.78 390.40 C 366.78 391.92 365.93 392.88 364.79 392.88 C 363.75 392.88 363.08 392.21 362.89 391.35" stroke-width="1.25"/>
<path d="M331.7 379.5 L352.2 370.7 A3.5 9.5 -23.2 0 0 344.8 353.3 L324.3 362.1" fill="#fff"/>
<ellipse cx="328" cy="370.8" rx="3.5" ry="9.5" transform="rotate(-23.2 328 370.8)" fill="#fff"/>
<path d="M326.8 362.4h0.01 M328.4 365.2h0.01 M329.5 368.6h0.01 M331.2 371.2h0.01 M332.2 374.1h0.01 M333.1 377.4h0.01 M330.2 362.2h0.01 M331.7 365.3h0.01 M332.6 368.4h0.01 M334.7 371.7h0.01 M335.8 374.7h0.01 M331.9 359.9h0.01 M333.5 362.7h0.01 M335.2 365.7h0.01 M336.1 369.4h0.01 M337.4 372.5h0.01 M338.8 375.1h0.01 M335.5 360.3h0.01 M336.5 363.1h0.01 M338.4 366.1h0.01 M339.6 369.1h0.01 M341.3 372.6h0.01 M337.8 357.8h0.01 M339.0 360.8h0.01 M339.9 363.8h0.01 M341.6 366.4h0.01 M343.2 369.9h0.01 M344.0 372.7h0.01 M340.8 358.0h0.01 M342.5 360.8h0.01 M343.0 364.0h0.01 M345.1 367.4h0.01 M346.1 370.2h0.01 M343.0 355.6h0.01 M344.0 358.6h0.01 M345.5 361.5h0.01 M346.4 364.3h0.01 M348.1 367.9h0.01 M349.3 370.7h0.01" stroke-width="1.30"/>
<ellipse cx="328" cy="370.8" rx="2.5" ry="6" transform="rotate(-23 328 370.8)"/>
<path d="M346.6 374.0 L346.6 389.0"/>
<path d="M 347.78 397.88 L 347.78 390.27 L 344.93 395.59 L 348.92 395.59" stroke-width="1.25"/>
<ellipse cx="314.9" cy="375.3" rx="7.2" ry="8.5" transform="rotate(-12 314.9 375.3)" fill="#fff" stroke-width="1.1"/>
<ellipse cx="315.7" cy="375.1" rx="5.33" ry="6.8" transform="rotate(-12 315.7 375.1)"/>
<path d="M311.1 369.6 L313.6 376.0 L316.2 372.8" stroke-width="0.9"/>
<path d="M317.3 373.9 L322.7 372.8 L325.2 384.4 L319.7 385.6Z" fill="#fff" stroke-linejoin="round" stroke-width="1.1"/>
<path d="M317.6 375.5 Q320.2 375.1 322.7 374.3" stroke-width="0.9"/>
<path d="M323.2 385.8 L329.5 396.0"/>
<path d="M 329.62 399.08 L 331.51 397.27 L 331.51 404.88 M 337.50 397.27 L 334.65 397.27 L 334.27 400.69 C 334.75 400.22 335.22 400.03 335.88 400.03 C 337.12 400.03 337.78 400.98 337.78 402.40 C 337.78 403.92 336.93 404.88 335.79 404.88 C 334.75 404.88 334.08 404.21 333.89 403.35" stroke-width="1.25"/>
<path d="M279 372.3 Q292 373 299 378 L302 376 Q306 375 307 379 L307.5 384 Q306 388 302 387.5 Q299 395 293 401 Q290 406 284 407.5" fill="#fff"/>
<path d="M284.5 373 Q293 379 294.5 392 Q294 402 289 407 M288.5 374 Q297 381 298 392 Q297 400 293 404 M293 376 Q300 382 300.5 390"/>
<path d="M302 376 Q304.5 381 302 387.5 M304.5 375.5 Q307 381 304.8 387.3"/>
<path d="M296 401 Q301 400 303 404 L302 408 M299 398 Q303 397 305 401"/>
<ellipse cx="281.3" cy="390" rx="11.7" ry="17.8" transform="rotate(-12 281.3 390)" fill="#fff"/>
<ellipse cx="281" cy="390.8" rx="10" ry="16" transform="rotate(-12 281 390.8)"/>
<ellipse cx="280.3" cy="391.6" rx="8.6" ry="14.4" transform="rotate(-12 280.3 391.6)"/>
<path d="M49.8 315.9 L141.7 264.9 L149.2 268.7"/>
<path d="M49.8 315.9 Q38 330 36 345 Q36 356 44.8 361.8 Q55 363 64.7 359.3 L136.8 327"/>
<path d="M63.5 323.3 L136.8 284.8"/>
<path d="M136.8 279.8 L136.8 329.5"/>
<path d="M136.8 279.8 L150.5 274 M171.7 286.7 L170.7 297 Q166 304 158.5 309 L136.8 329.5"/>
<path d="M155 270.5 L161.5 270.5 L170 274.5 Q172.5 276 172.5 279 L172 286 Q170 288.5 166 288 L160 286 L157 278 Z" fill="#fff"/>
<ellipse cx="154" cy="274.6" rx="3.6" ry="4.2" transform="rotate(-20 154 274.6)" fill="#fff"/>
<ellipse cx="154.5" cy="274.8" rx="2.2" ry="2.6" transform="rotate(-20 154.5 274.8)"/>
<ellipse cx="167.5" cy="283.5" rx="3.2" ry="2.1" transform="rotate(-15 167.5 283.5)"/>
<path d="M161 276 Q166 275.5 170 278.5"/>
<path d="M63.6 326.0 L63.6 359.2"/>
<path d="M64.6 326.0 L64.6 359.2"/>
<path d="M71.3 324.6 L71.3 358.1"/>
<path d="M75 326 Q82 321 100 322 Q104 324 104 330 L103 341 Q97 345 84 345 Q76 343 75 336Z"/>
<path d="M78 328 Q84 325 97 325.5 Q100 328 100 332 L99 339 Q94 341 85 341 Q79 340 78 335Z"/>
<path d="M71 330 Q73 315 88 313.5 Q104 313 105.7 330 Q106 340 104 345"/>
<circle cx="97" cy="346" r="2" fill="#fff"/>
<path d="M29.0 344.0 L35.5 344.0 A1.0 2.5 0.0 0 0 35.5 339.0 L29.0 339.0" fill="#fff"/>
<ellipse cx="29" cy="341.5" rx="1" ry="2.5" fill="#fff"/>
<ellipse cx="98" cy="355" rx="5.5" ry="3" fill="#fff"/>
<ellipse cx="98" cy="356.5" rx="5.5" ry="3" fill="#fff"/>
<ellipse cx="98" cy="355" rx="3" ry="1.5"/>
<path d="M92 367 L92 386 Q98 392.5 104 386 L104 367" fill="#fff"/>
<ellipse cx="97.5" cy="366" rx="5.5" ry="2.6" fill="#fff"/>
<ellipse cx="97.5" cy="366" rx="3.2" ry="1.3"/>
<path d="M92 369 Q98 372 104 369"/>
<path d="M91 384 Q97.5 390 104.5 384 M91 386 L91 390 Q97.5 396 104.5 390 L104.5 386"/>
<path d="M103.8 372 L109 366 M103.8 382 L115.5 373"/>
<ellipse cx="112.3" cy="369.6" rx="3.6" ry="5.3" transform="rotate(-35 112.3 369.6)" fill="#fff"/>
<ellipse cx="112.6" cy="369.8" rx="2.2" ry="3.3" transform="rotate(-35 112.6 369.8)"/>
<path d="M75.6 388.4 L90.5 388.4"/>
<path d="M 67.11 384.98 L 69.02 383.17 L 69.02 390.77 M 74.24 390.77 L 74.24 383.17 L 71.39 388.49 L 75.38 388.49" stroke-width="1.25"/>
<path d="M97.5 393.4 L97.5 398.5"/>
<ellipse cx="96" cy="402.5" rx="9.5" ry="4.5" fill="#fff"/>
<ellipse cx="97" cy="402.3" rx="6.5" ry="3"/>
<path d="M97.5 398.5 L97.5 407.0"/>
<path d="M 67.11 402.98 L 69.02 401.17 L 69.02 408.77 M 75.00 402.41 C 74.72 401.55 74.14 401.17 73.39 401.17 C 71.96 401.17 71.39 402.88 71.39 405.26 C 71.39 407.63 72.15 408.77 73.39 408.77 C 74.53 408.77 75.28 407.92 75.28 406.40 C 75.28 404.97 74.53 404.12 73.39 404.12 C 72.34 404.12 71.67 404.78 71.48 405.54" stroke-width="1.25"/>
<path d="M75.6 406.2 L85.0 406.2"/>
<path d="M120.6 354.4 L132.5 367.5" stroke-dasharray="9 2.5 2 2.5"/>
<ellipse cx="137.3" cy="373.9" rx="8" ry="5.5" transform="rotate(-10 137.3 373.9)" fill="#fff" stroke-width="1.1"/>
<ellipse cx="138.1" cy="373.8" rx="5.92" ry="4.4" transform="rotate(-10 138.1 373.8)"/>
<path d="M133.8 370.3 L135.8 374.4 L139.0 372.2" stroke-width="0.9"/>
<path d="M140.2 373.9 L146.3 372.9 L145.0 365.3 L138.9 366.4Z" fill="#fff" stroke-linejoin="round" stroke-width="1.1"/>
<path d="M140.0 372.4 Q143.1 371.6 145.7 371.4" stroke-width="0.9"/>
<path d="M149.8 369.7 L172.5 369.7"/>
<path d="M 175.62 367.18 L 177.52 365.38 L 177.52 372.98 M 183.50 366.61 C 183.22 365.75 182.65 365.38 181.89 365.38 C 180.46 365.38 179.89 367.08 179.89 369.46 C 179.89 371.83 180.65 372.98 181.89 372.98 C 183.03 372.98 183.79 372.12 183.79 370.60 C 183.79 369.18 183.03 368.32 181.89 368.32 C 180.84 368.32 180.18 368.99 179.99 369.75" stroke-width="1.25"/>
<path d="M164.3 400.7 L150.9 380.3 A2.6 6.8 -123.3 0 0 139.5 387.7 L152.9 408.1" fill="#fff"/>
<ellipse cx="158.6" cy="404.4" rx="2.6" ry="6.8" transform="rotate(-123.3 158.6 404.4)" fill="#fff"/>
<path d="M151.9 385.1h0.01 M149.2 387.3h0.01 M146.9 388.5h0.01 M144.0 390.5h0.01 M151.7 388.5h0.01 M149.8 390.2h0.01 M147.1 391.9h0.01 M154.4 390.1h0.01 M152.4 391.1h0.01 M150.0 393.5h0.01 M147.2 394.6h0.01 M154.6 393.0h0.01 M152.5 394.3h0.01 M149.9 396.3h0.01 M157.6 394.7h0.01 M155.3 395.7h0.01 M152.4 398.0h0.01 M149.8 399.1h0.01 M157.9 397.6h0.01 M155.0 398.9h0.01 M153.1 400.6h0.01 M160.8 398.6h0.01 M157.9 399.9h0.01 M155.5 401.8h0.01 M152.9 403.9h0.01" stroke-width="1.20"/>
<ellipse cx="145.2" cy="384.0" rx="6.8" ry="2.5" transform="rotate(-33 145.2 384.0)" fill="#fff"/>
<ellipse cx="145.9" cy="385.0" rx="6.8" ry="2.5" transform="rotate(-33 145.9 385.0)"/>
<ellipse cx="146.5" cy="386.0" rx="6.8" ry="2.5" transform="rotate(-33 146.5 386.0)"/>
<ellipse cx="147.2" cy="387.0" rx="6.8" ry="2.5" transform="rotate(-33 147.2 387.0)"/>
<ellipse cx="158.6" cy="404.4" rx="6.8" ry="2.5" transform="rotate(-33 158.6 404.4)" fill="#fff"/>
<ellipse cx="157.9" cy="403.4" rx="6.8" ry="2.5" transform="rotate(-33 157.9 403.4)"/>
<ellipse cx="157.3" cy="402.4" rx="6.8" ry="2.5" transform="rotate(-33 157.3 402.4)"/>
<ellipse cx="156.6" cy="401.4" rx="6.8" ry="2.5" transform="rotate(-33 156.6 401.4)"/>
<path d="M157.7 388.0 L187.3 388.0"/>
<path d="M 192.23 387.19 C 191.18 387.19 190.61 386.52 190.61 385.48 C 190.61 384.34 191.28 383.67 192.23 383.67 C 193.18 383.67 193.84 384.34 193.84 385.48 C 193.84 386.52 193.27 387.19 192.23 387.19 C 191.09 387.19 190.33 387.95 190.33 389.18 C 190.33 390.51 191.09 391.27 192.23 391.27 C 193.37 391.27 194.13 390.51 194.13 389.18 C 194.13 387.95 193.37 387.19 192.23 387.19 Z" stroke-width="1.25"/>
<path d="M163 407 Q163 401 168 400.5 Q172 400 172 404 M172 404 Q176 401 176.4 405" fill="#fff"/>
<path d="M178.8 406.2 L203.8 406.2"/>
<path d="M 206.92 402.98 L 208.82 401.17 L 208.82 408.77 M 214.80 402.41 C 214.52 401.55 213.95 401.17 213.19 401.17 C 211.76 401.17 211.19 402.88 211.19 405.26 C 211.19 407.63 211.95 408.77 213.19 408.77 C 214.33 408.77 215.09 407.92 215.09 406.40 C 215.09 404.97 214.33 404.12 213.19 404.12 C 212.14 404.12 211.48 404.78 211.29 405.54" stroke-width="1.25"/>
</g></svg>
<div class="hd" style="left:519px;top:0;width:499px;height:11.6px"></div>
<div class="hv" style="left:538px;top:0;height:11.6px"></div>
<div class="hv" style="left:624px;top:0;height:11.6px"></div>
<div class="hv" style="left:763px;top:0;height:11.6px"></div>
<div class="hv" style="left:830px;top:0;height:11.6px"></div>
<div class="hv" style="left:900px;top:0;height:11.6px"></div>
<div class="hv" style="left:951px;top:0;height:11.6px"></div>
<div class="ht" style="left:627.2px;">vacuum hoses</div>
<div class="ht" style="left:955px;">AAN</div>
<div class="v" style="left:519px;top:11.6px;height:366.22px"></div>
<div class="v" style="left:538px;top:11.6px;height:366.22px"></div>
<div class="v" style="left:624px;top:11.6px;height:366.22px"></div>
<div class="v" style="left:763px;top:11.6px;height:366.22px"></div>
<div class="v" style="left:830px;top:11.6px;height:366.22px"></div>
<div class="v" style="left:900px;top:11.6px;height:366.22px"></div>
<div class="v" style="left:951px;top:11.6px;height:366.22px"></div>
<div class="v" style="left:1017px;top:11.6px;height:366.22px"></div>
<div class="h" style="left:519px;top:11.60px;width:499px"></div>
<div class="h" style="left:519px;top:31.89px;width:499px"></div>
<div class="h" style="left:519px;top:52.18px;width:499px"></div>
<div class="h" style="left:519px;top:72.47px;width:499px"></div>
<div class="h" style="left:519px;top:92.76px;width:499px"></div>
<div class="h" style="left:519px;top:113.05px;width:499px"></div>
<div class="h" style="left:519px;top:133.34px;width:499px"></div>
<div class="h" style="left:519px;top:153.63px;width:499px"></div>
<div class="h" style="left:519px;top:173.92px;width:499px"></div>
<div class="h" style="left:519px;top:194.21px;width:499px"></div>
<div class="h" style="left:519px;top:214.50px;width:499px"></div>
<div class="h" style="left:519px;top:234.79px;width:499px"></div>
<div class="h" style="left:519px;top:255.08px;width:499px"></div>
<div class="h" style="left:519px;top:275.37px;width:499px"></div>
<div class="h" style="left:519px;top:295.66px;width:499px"></div>
<div class="h" style="left:519px;top:315.95px;width:499px"></div>
<div class="h" style="left:519px;top:336.24px;width:499px"></div>
<div class="h" style="left:519px;top:356.53px;width:499px"></div>
<div class="h" style="left:519px;top:376.82px;width:499px"></div>
<div class="r" style="top:11.60px">
<span class="c" style="left:519px;width:19px;text-align:center;transform-origin:50% 0">1</span>
<span class="c" style="left:542px">034 103 211 M</span>
<span class="c" style="left:627.2px">breather line</span>
<svg class="ic" style="left:766.2px" width="9.2" height="9.2" viewBox="0 0 9 9"><circle cx="4.5" cy="4.5" r="4.5" fill="#151515"/><circle cx="4.7" cy="2.2" r="1.05" fill="#fff"/><path d="M3.2 3.6H5.4V6.2H6.1V7.3H3.1V6.2H3.9V4.6H3.2Z" fill="#fff"/></svg>
<span class="c" style="left:900px;width:51px;text-align:center;transform-origin:50% 0">1</span>
</div>
<div class="r" style="top:31.89px">
<span class="c" style="left:519px;width:19px;text-align:center;transform-origin:50% 0">2</span>
<span class="c" style="left:542px">034 103 221 AR</span>
<span class="c" style="left:627.2px">hose</span>
<svg class="ic" style="left:766.2px" width="9.2" height="9.2" viewBox="0 0 9 9"><circle cx="4.5" cy="4.5" r="4.5" fill="#151515"/><circle cx="4.7" cy="2.2" r="1.05" fill="#fff"/><path d="M3.2 3.6H5.4V6.2H6.1V7.3H3.1V6.2H3.9V4.6H3.2Z" fill="#fff"/></svg>
<span class="c" style="left:900px;width:51px;text-align:center;transform-origin:50% 0">1</span>
</div>
<div class="r" style="top:52.18px">
<span class="c" style="left:519px;width:19px;text-align:center;transform-origin:50% 0">3</span>
<span class="c" style="left:542px">034 129 101 B</span>
<span class="c" style="left:627.2px">pressure-relief valve</span>
<svg class="ic" style="left:766.2px" width="9.2" height="9.2" viewBox="0 0 9 9"><circle cx="4.5" cy="4.5" r="4.5" fill="#151515"/><circle cx="4.7" cy="2.2" r="1.05" fill="#fff"/><path d="M3.2 3.6H5.4V6.2H6.1V7.3H3.1V6.2H3.9V4.6H3.2Z" fill="#fff"/></svg>
<span class="c" style="left:900px;width:51px;text-align:center;transform-origin:50% 0">1</span>
</div>
<div class="r" style="top:72.47px">
<span class="c" style="left:519px;width:19px;text-align:center;transform-origin:50% 0">3</span>
<span class="c" style="left:542px">034 129 101 A</span>
<span class="c" style="left:627.2px">pressure-relief valve</span>
<svg class="ic" style="left:766.2px" width="9.2" height="9.2" viewBox="0 0 9 9"><circle cx="4.5" cy="4.5" r="4.5" fill="#151515"/><circle cx="4.7" cy="2.2" r="1.05" fill="#fff"/><path d="M3.2 3.6H5.4V6.2H6.1V7.3H3.1V6.2H3.9V4.6H3.2Z" fill="#fff"/></svg>
<span class="c" style="left:900px;width:51px;text-align:center;transform-origin:50% 0">1</span>
</div>
<div class="r" style="top:92.76px">
<span class="c" style="left:519px;width:19px;text-align:center;transform-origin:50% 0">4</span>
<span class="c" style="left:542px">034 133 999 H</span>
<span class="c" style="left:627.2px">hose</span>
<svg class="ic" style="left:766.2px" width="9.2" height="9.2" viewBox="0 0 9 9"><circle cx="4.5" cy="4.5" r="4.5" fill="#151515"/><circle cx="4.7" cy="2.2" r="1.05" fill="#fff"/><path d="M3.2 3.6H5.4V6.2H6.1V7.3H3.1V6.2H3.9V4.6H3.2Z" fill="#fff"/></svg>
<span class="c" style="left:900px;width:51px;text-align:center;transform-origin:50% 0">1</span>
</div>
<div class="r" style="top:113.05px">
<span class="c" style="left:519px;width:19px;text-align:center;transform-origin:50% 0">6</span>
<span class="c" style="left:542px">034 103 217 AB</span>
<span class="c" style="left:627.2px">pipe</span>
<svg class="ic" style="left:766.2px" width="9.2" height="9.2" viewBox="0 0 9 9"><circle cx="4.5" cy="4.5" r="4.5" fill="#151515"/><circle cx="4.7" cy="2.2" r="1.05" fill="#fff"/><path d="M3.2 3.6H5.4V6.2H6.1V7.3H3.1V6.2H3.9V4.6H3.2Z" fill="#fff"/></svg>
<span class="c" style="left:900px;width:51px;text-align:center;transform-origin:50% 0">1</span>
</div>
<div class="r" style="top:133.34px">
<span class="c" style="left:519px;width:19px;text-align:center;transform-origin:50% 0">7</span>
<span class="c" style="left:542px">034 133 997 J</span>
<span class="c" style="left:627.2px">hose</span>
<svg class="ic" style="left:766.2px" width="9.2" height="9.2" viewBox="0 0 9 9"><circle cx="4.5" cy="4.5" r="4.5" fill="#151515"/><circle cx="4.7" cy="2.2" r="1.05" fill="#fff"/><path d="M3.2 3.6H5.4V6.2H6.1V7.3H3.1V6.2H3.9V4.6H3.2Z" fill="#fff"/></svg>
<span class="c" style="left:900px;width:51px;text-align:center;transform-origin:50% 0">1</span>
</div>
<div class="r" style="top:153.63px">
<span class="c" style="left:519px;width:19px;text-align:center;transform-origin:50% 0">8</span>
<span class="c" style="left:542px">034 133 999 J</span>
<span class="c" style="left:627.2px">hose</span>
<svg class="ic" style="left:766.2px" width="9.2" height="9.2" viewBox="0 0 9 9"><circle cx="4.5" cy="4.5" r="4.5" fill="#151515"/><circle cx="4.7" cy="2.2" r="1.05" fill="#fff"/><path d="M3.2 3.6H5.4V6.2H6.1V7.3H3.1V6.2H3.9V4.6H3.2Z" fill="#fff"/></svg>
<span class="c" style="left:900px;width:51px;text-align:center;transform-origin:50% 0">1</span>
</div>
<div class="r" style="top:173.92px">
<span class="c" style="left:519px;width:19px;text-align:center;transform-origin:50% 0">9</span>
<span class="c" style="left:542px">034 103 247 G</span>
<span class="c" style="left:627.2px">valve housing</span>
<svg class="ic" style="left:766.2px" width="9.2" height="9.2" viewBox="0 0 9 9"><circle cx="4.5" cy="4.5" r="4.5" fill="#151515"/><circle cx="4.7" cy="2.2" r="1.05" fill="#fff"/><path d="M3.2 3.6H5.4V6.2H6.1V7.3H3.1V6.2H3.9V4.6H3.2Z" fill="#fff"/></svg>
<span class="c" style="left:900px;width:51px;text-align:center;transform-origin:50% 0">1</span>
</div>
<div class="r" style="top:194.21px">
<span class="c" style="left:519px;width:19px;text-align:center;transform-origin:50% 0">10</span>
<span class="c" style="left:542px">035 103 245 A</span>
<span class="c" style="left:627.2px">breather valve</span>
<svg class="ic" style="left:766.2px" width="9.2" height="9.2" viewBox="0 0 9 9"><circle cx="4.5" cy="4.5" r="4.5" fill="#151515"/><circle cx="4.7" cy="2.2" r="1.05" fill="#fff"/><path d="M3.2 3.6H5.4V6.2H6.1V7.3H3.1V6.2H3.9V4.6H3.2Z" fill="#fff"/></svg>
<span class="c" style="left:900px;width:51px;text-align:center;transform-origin:50% 0">1</span>
</div>
<div class="r" style="top:214.50px">
<span class="c" style="left:519px;width:19px;text-align:center;transform-origin:50% 0">11</span>
<span class="c" style="left:542px">054 103 223 A</span>
<span class="c" style="left:627.2px">hose</span>
<svg class="ic" style="left:766.2px" width="9.2" height="9.2" viewBox="0 0 9 9"><circle cx="4.5" cy="4.5" r="4.5" fill="#151515"/><circle cx="4.7" cy="2.2" r="1.05" fill="#fff"/><path d="M3.2 3.6H5.4V6.2H6.1V7.3H3.1V6.2H3.9V4.6H3.2Z" fill="#fff"/></svg>
<span class="c" style="left:900px;width:51px;text-align:center;transform-origin:50% 0">1</span>
</div>
<div class="r" style="top:234.79px">
<span class="c" style="left:519px;width:19px;text-align:center;transform-origin:50% 0">12</span>
<span class="c" style="left:542px">034 103 217 AF</span>
<span class="c" style="left:627.2px">breather line</span>
<svg class="ic" style="left:766.2px" width="9.2" height="9.2" viewBox="0 0 9 9"><circle cx="4.5" cy="4.5" r="4.5" fill="#151515"/><circle cx="4.7" cy="2.2" r="1.05" fill="#fff"/><path d="M3.2 3.6H5.4V6.2H6.1V7.3H3.1V6.2H3.9V4.6H3.2Z" fill="#fff"/></svg>
<span class="c" style="left:900px;width:51px;text-align:center;transform-origin:50% 0">1</span>
</div>
<div class="r" style="top:255.08px">
<span class="c" style="left:519px;width:19px;text-align:center;transform-origin:50% 0">13</span>
<span class="c" style="left:542px">034 133 999 H</span>
<span class="c" style="left:627.2px">hose</span>
<svg class="ic" style="left:766.2px" width="9.2" height="9.2" viewBox="0 0 9 9"><circle cx="4.5" cy="4.5" r="4.5" fill="#151515"/><circle cx="4.7" cy="2.2" r="1.05" fill="#fff"/><path d="M3.2 3.6H5.4V6.2H6.1V7.3H3.1V6.2H3.9V4.6H3.2Z" fill="#fff"/></svg>
<span class="c" style="left:900px;width:51px;text-align:center;transform-origin:50% 0">1</span>
</div>
<div class="r" style="top:275.37px">
<span class="c" style="left:519px;width:19px;text-align:center;transform-origin:50% 0">14</span>
<span class="c" style="left:627.2px">see illustration:</span>
<span class="c" style="left:830px;width:70px;text-align:center;transform-origin:50% 0">133-70</span>
</div>
<div class="r" style="top:295.66px">
<span class="c" style="left:519px;width:19px;text-align:center;transform-origin:50% 0">15</span>
<span class="c" style="left:542px">N10 258 101</span>
<span class="c" style="left:627.2px">clamp</span>
<svg class="ic" style="left:766.2px" width="9.2" height="9.2" viewBox="0 0 9 9"><circle cx="4.5" cy="4.5" r="4.5" fill="#151515"/><circle cx="4.7" cy="2.2" r="1.05" fill="#fff"/><path d="M3.2 3.6H5.4V6.2H6.1V7.3H3.1V6.2H3.9V4.6H3.2Z" fill="#fff"/></svg>
<span class="c" style="left:830px;width:70px;text-align:center;transform-origin:50% 0">23-35X9X0,5</span>
<span class="c" style="left:900px;width:51px;text-align:center;transform-origin:50% 0">X</span>
</div>
<div class="r" style="top:315.95px">
<span class="c" style="left:519px;width:19px;text-align:center;transform-origin:50% 0">16</span>
<span class="c" style="left:542px">N90 561 801</span>
<span class="c" style="left:627.2px">clamp</span>
<svg class="ic" style="left:766.2px" width="9.2" height="9.2" viewBox="0 0 9 9"><circle cx="4.5" cy="4.5" r="4.5" fill="#151515"/><circle cx="4.7" cy="2.2" r="1.05" fill="#fff"/><path d="M3.2 3.6H5.4V6.2H6.1V7.3H3.1V6.2H3.9V4.6H3.2Z" fill="#fff"/></svg>
<span class="c" style="left:830px;width:70px;text-align:center;transform-origin:50% 0">16-28X9X0,5</span>
<span class="c" style="left:900px;width:51px;text-align:center;transform-origin:50% 0">X</span>
</div>
<div class="r" style="top:336.24px">
<span class="c" style="left:519px;width:19px;text-align:center;transform-origin:50% 0">17</span>
<span class="c" style="left:542px">N02 450 77</span>
<span class="c" style="left:627.2px">clamp</span>
<svg class="ic" style="left:766.2px" width="9.2" height="9.2" viewBox="0 0 9 9"><circle cx="4.5" cy="4.5" r="4.5" fill="#151515"/><circle cx="4.7" cy="2.2" r="1.05" fill="#fff"/><path d="M3.2 3.6H5.4V6.2H6.1V7.3H3.1V6.2H3.9V4.6H3.2Z" fill="#fff"/></svg>
<span class="c" style="left:830px;width:70px;text-align:center;transform-origin:50% 0">32-50X9X0,5</span>
<span class="c" style="left:900px;width:51px;text-align:center;transform-origin:50% 0">X</span>
</div>
<div class="r" style="top:356.53px">
<span class="c" style="left:519px;width:19px;text-align:center;transform-origin:50% 0">18</span>
<span class="c" style="left:542px">N10 258 201</span>
<span class="c" style="left:627.2px">clamp</span>
<svg class="ic" style="left:766.2px" width="9.2" height="9.2" viewBox="0 0 9 9"><circle cx="4.5" cy="4.5" r="4.5" fill="#151515"/><circle cx="4.7" cy="2.2" r="1.05" fill="#fff"/><path d="M3.2 3.6H5.4V6.2H6.1V7.3H3.1V6.2H3.9V4.6H3.2Z" fill="#fff"/></svg>
<span class="c" style="left:830px;width:70px;text-align:center;transform-origin:50% 0">12-22X9X0,4</span>
<span class="c" style="left:900px;width:51px;text-align:center;transform-origin:50% 0">X</span>
</div>
</body></html>
